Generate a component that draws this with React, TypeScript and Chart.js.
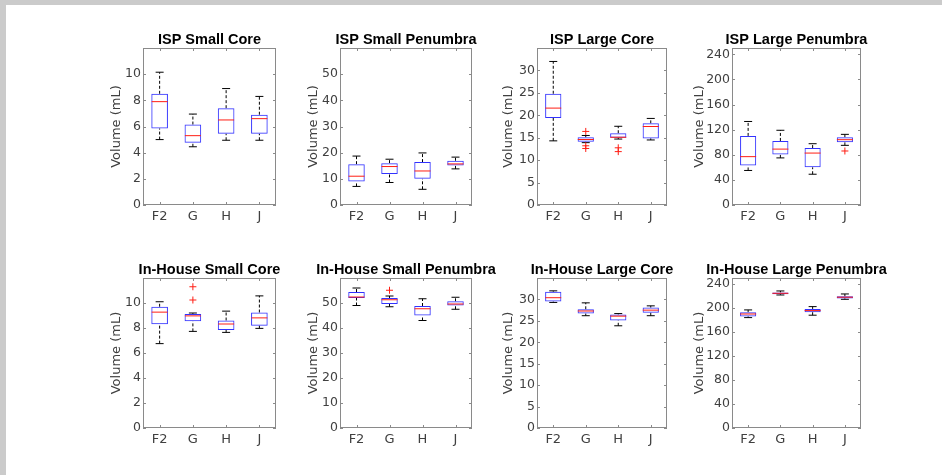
import React, { useEffect, useRef } from 'react';
import { Chart, registerables } from 'chart.js';
Chart.register(...registerables);

const categories = ['F2', 'G', 'H', 'J'];

// Five-number summaries per category: [lower whisker, Q1, median, Q3, upper whisker]
const ispSmallCore = [[5.0, 5.85, 7.9, 8.5, 10.15], [4.45, 4.75, 5.3, 6.15, 6.95], [4.95, 5.45, 6.5, 7.4, 8.9], [4.95, 5.45, 6.6, 6.9, 8.3]];
const ispSmallCoreOutliers = [[], [], [], []];
const ispSmallPenumbra = [[7.1, 9.0, 11.0, 15.6, 18.7], [8.6, 11.8, 14.7, 16.0, 17.5], [6.0, 10.0, 13.0, 16.4, 19.9], [13.8, 15.1, 15.7, 16.9, 18.3]];
const ispSmallPenumbraOutliers = [[], [], [], []];
const ispLargeCore = [[14.3, 19.4, 21.6, 24.8, 32.0], [13.9, 14.1, 14.6, 15.1, 15.5], [14.7, 15.0, 15.1, 16.0, 17.55], [14.5, 14.85, 17.5, 18.2, 19.3]];
const ispLargeCoreOutliers = [[], [16.4, 13.2, 12.6], [12.75, 11.9], []];
const ispLargePenumbra = [[55, 63, 77, 110, 133], [75, 80.5, 89, 102, 119], [49, 60, 82.7, 90.7, 97.6], [95, 100, 104, 108, 112.5]];
const ispLargePenumbraOutliers = [[], [], [], [86]];
const ihSmallCore = [[6.75, 8.3, 9.27, 9.7, 10.1], [7.73, 8.54, 8.97, 9.13, 9.2], [7.65, 7.84, 8.32, 8.6, 9.35], [7.97, 8.19, 8.81, 9.24, 10.57]];
const ihSmallCoreOutliers = [[], [11.3, 10.24], [], []];
const ihSmallPenumbra = [[49, 52, 52.4, 54.4, 56], [48.5, 49.6, 51.3, 52, 52.8], [43, 45, 47.7, 48.8, 51.7], [47.5, 49, 49.6, 50.7, 52.3]];
const ihSmallPenumbraOutliers = [[], [55.1], [], []];
const ihLargeCore = [[29.3, 29.5, 30.4, 31.8, 32.0], [26.2, 26.7, 27.3, 27.7, 29.2], [23.85, 25.1, 26.1, 26.5, 26.7], [26.2, 26.9, 27.5, 28.1, 28.5]];
const ihLargeCoreOutliers = [[], [], [], []];
const ihLargePenumbra = [[184, 186, 190, 193, 196.8], [221.7, 223, 224.5, 226, 228.4], [188, 193, 195.7, 198.4, 202.3], [214.5, 216, 218, 219.5, 223.4]];
const ihLargePenumbraOutliers = [[], [], [], []];

// Y axis ticks and limits
const smallCoreTicks = [0, 2, 4, 6, 8, 10];
const smallCoreMax = 12;
const smallPenumbraTicks = [0, 10, 20, 30, 40, 50];
const smallPenumbraMax = 60;
const largeCoreTicks = [0, 5, 10, 15, 20, 25, 30];
const largeCoreMax = 35;
const largePenumbraTicks = [0, 40, 80, 120, 160, 200, 240];
const largePenumbraMax = 250;

const titles = [
  'ISP Small Core', 'ISP Small Penumbra', 'ISP Large Core', 'ISP Large Penumbra',
  'In-House Small Core', 'In-House Small Penumbra', 'In-House Large Core', 'In-House Large Penumbra',
];

const panels = [
  { title: titles[0], stats: ispSmallCore, outliers: ispSmallCoreOutliers, ticks: smallCoreTicks, max: smallCoreMax },
  { title: titles[1], stats: ispSmallPenumbra, outliers: ispSmallPenumbraOutliers, ticks: smallPenumbraTicks, max: smallPenumbraMax },
  { title: titles[2], stats: ispLargeCore, outliers: ispLargeCoreOutliers, ticks: largeCoreTicks, max: largeCoreMax },
  { title: titles[3], stats: ispLargePenumbra, outliers: ispLargePenumbraOutliers, ticks: largePenumbraTicks, max: largePenumbraMax },
  { title: titles[4], stats: ihSmallCore, outliers: ihSmallCoreOutliers, ticks: smallCoreTicks, max: smallCoreMax },
  { title: titles[5], stats: ihSmallPenumbra, outliers: ihSmallPenumbraOutliers, ticks: smallPenumbraTicks, max: smallPenumbraMax },
  { title: titles[6], stats: ihLargeCore, outliers: ihLargeCoreOutliers, ticks: largeCoreTicks, max: largeCoreMax },
  { title: titles[7], stats: ihLargePenumbra, outliers: ihLargePenumbraOutliers, ticks: largePenumbraTicks, max: largePenumbraMax },
];

// layout (plot-area edges in page pixels; gap = distance of y title centre from the axis)
const COLS = [{ l: 143, r: 276, gap: 26 }, { l: 340, r: 472, gap: 26 }, { l: 537, r: 667, gap: 28.5 }, { l: 732, r: 861, gap: 32.5 }];
const ROWS = [{ t: 48, b: 205 }, { t: 278, b: 428 }];
const AXIS_W = 45;
const PAD_TOP = 30;
const PAD_RIGHT = 40;
const AXIS_H = 25;
const YTITLE_SIZE = 13;

const TITLE_FONT = 'Arial, "Liberation Sans", Helvetica, sans-serif';
const TICK_FONT = '"DejaVu Sans", Verdana, sans-serif';
const BOX_COLOR = 'rgb(50,50,255)';
const MED_COLOR = 'rgb(255,30,20)';
const FRAME_COLOR = '#8a8a8a';
const TEXT_COLOR = '#404040';

const framePlugin = {
  id: 'frame',
  beforeDatasetsDraw(chart: any) {
    const { ctx, chartArea } = chart;
    const { left, top, right, bottom } = chartArea;
    const x = chart.scales.x;
    const y = chart.scales.y;
    ctx.save();
    ctx.strokeStyle = FRAME_COLOR;
    ctx.lineWidth = 1;
    ctx.strokeRect(left + 0.5, top + 0.5, right - left - 1, bottom - top - 1);
    ctx.beginPath();
    y.ticks.forEach((t: any) => {
      const py = Math.round(y.getPixelForValue(t.value)) + 0.5;
      ctx.moveTo(left, py); ctx.lineTo(left + 3, py);
      ctx.moveTo(right, py); ctx.lineTo(right - 3, py);
    });
    categories.forEach((_, i) => {
      const px = Math.round(x.getPixelForValue(i)) + 0.5;
      ctx.moveTo(px, bottom); ctx.lineTo(px, bottom - 3);
      ctx.moveTo(px, top); ctx.lineTo(px, top + 3);
    });
    ctx.stroke();
    ctx.restore();
  },
  afterDraw(chart: any, _args: any, opts: any) {
    const { ctx, chartArea } = chart;
    const { left, top, right } = chartArea;
    ctx.save();
    ctx.fillStyle = '#000';
    ctx.font = `bold 14.5px ${TITLE_FONT}`;
    ctx.textAlign = 'center';
    ctx.textBaseline = 'alphabetic';
    ctx.fillText(opts.text, (left + right) / 2, top - 4);
    ctx.restore();
  },
};

function buildConfig(p: any, gap: number) {
  const datasets: any[] = [];
  p.stats.forEach((s: number[], i: number) => {
    const c = categories[i];
    datasets.push({
      type: 'line', data: [{ x: c, y: s[3] }, { x: c, y: s[4] }],
      borderColor: '#000', borderWidth: 1, borderDash: [3, 2], pointRadius: 0, order: 5,
    });
    datasets.push({
      type: 'line', data: [{ x: c, y: s[0] }, { x: c, y: s[1] }],
      borderColor: '#000', borderWidth: 1, borderDash: [3, 2], pointRadius: 0, order: 5,
    });
  });
  datasets.push({
    type: 'bar',
    data: p.stats.map((s: number[]) => [s[1], s[3]]),
    backgroundColor: 'rgba(0,0,0,0)',
    borderColor: BOX_COLOR,
    borderWidth: 1,
    borderSkipped: false,
    barPercentage: 0.5,
    categoryPercentage: 1,
    order: 3,
  });
  const caps: any[] = [];
  p.stats.forEach((s: number[], i: number) => {
    caps.push({ x: categories[i], y: s[0] });
    caps.push({ x: categories[i], y: s[4] });
  });
  datasets.push({
    type: 'line', data: caps, showLine: false, pointStyle: 'line', pointRadius: 4,
    borderColor: '#000', pointBorderColor: '#000', pointBorderWidth: 1, order: 4,
  });
  datasets.push({
    type: 'line', data: p.stats.map((s: number[], i: number) => ({ x: categories[i], y: s[2] })),
    showLine: false, pointStyle: 'line', pointRadius: 8,
    borderColor: MED_COLOR, pointBorderColor: MED_COLOR, pointBorderWidth: 1, order: 1,
  });
  const outs: any[] = [];
  p.outliers.forEach((arr: number[], i: number) => arr.forEach((v) => outs.push({ x: categories[i], y: v })));
  datasets.push({
    type: 'line', data: outs, showLine: false, pointStyle: 'cross', pointRadius: 3.5,
    borderColor: MED_COLOR, pointBorderColor: MED_COLOR, pointBorderWidth: 1, order: 0,
  });

  const titlePadTop = AXIS_W - gap - (YTITLE_SIZE * 1.2) / 2;

  return {
    type: 'bar',
    data: { labels: categories, datasets },
    plugins: [framePlugin],
    options: {
      animation: false,
      responsive: false,
      events: [],
      layout: { padding: { top: PAD_TOP, right: PAD_RIGHT, left: 0, bottom: 0 } },
      plugins: {
        legend: { display: false },
        tooltip: { enabled: false },
        frame: { text: p.title },
      },
      scales: {
        x: {
          type: 'category',
          offset: true,
          grid: { display: false, drawTicks: false },
          border: { display: false },
          ticks: { color: TEXT_COLOR, font: { size: 13, family: TICK_FONT }, padding: 4, autoSkip: false, maxRotation: 0 },
          afterFit: (s: any) => { s.height = AXIS_H; },
        },
        y: {
          type: 'linear',
          min: 0,
          max: p.max,
          afterBuildTicks: (s: any) => { s.ticks = p.ticks.map((v: number) => ({ value: v })); },
          grid: { display: false, drawTicks: false },
          border: { display: false },
          ticks: { color: TEXT_COLOR, font: { size: 12.5, family: TICK_FONT }, padding: 2 },
          title: {
            display: true, text: 'Volume (mL)', color: TEXT_COLOR,
            font: { size: YTITLE_SIZE, family: TICK_FONT, lineHeight: 1.2 }, padding: { top: titlePadTop, bottom: 0 },
          },
          afterFit: (s: any) => { s.width = AXIS_W; },
        },
      },
    },
  };
}

function Panel({ p, col, row }: { p: any; col: number; row: number }) {
  const ref = useRef<HTMLCanvasElement>(null);
  const c = COLS[col];
  const r = ROWS[row];
  const left = c.l - AXIS_W;
  const top = r.t - PAD_TOP;
  const width = c.r - c.l + AXIS_W + PAD_RIGHT;
  const height = r.b - r.t + PAD_TOP + AXIS_H;
  useEffect(() => {
    if (!ref.current) return;
    const chart = new Chart(ref.current, buildConfig(p, c.gap) as any);
    return () => chart.destroy();
  }, [p]);
  return (
    <canvas
      ref={ref}
      width={width}
      height={height}
      style={{ position: 'absolute', left, top, width, height }}
    />
  );
}

export default function App() {
  return (
    <div style={{ position: 'absolute', left: 0, top: 0, width: 942, height: 475, background: '#cbcbcb', overflow: 'hidden' }}>
      <div style={{ position: 'absolute', left: 6, top: 5, right: 0, bottom: 0, background: '#fff' }} />
      {panels.map((p, i) => (
        <Panel key={i} p={p} col={i % 4} row={Math.floor(i / 4)} />
      ))}
    </div>
  );
}
